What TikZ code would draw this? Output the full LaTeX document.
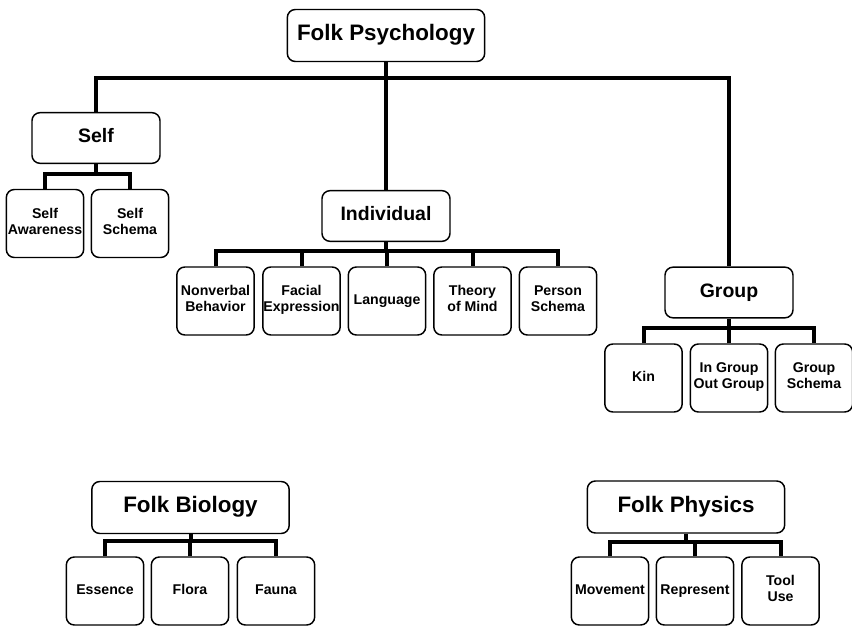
\documentclass[tikz,border=0pt]{standalone}
\usepackage{fontspec}
\setmainfont{Liberation Sans}
\usepackage{tikz}
\usetikzlibrary{calc}

\begin{document}
\begin{tikzpicture}[x=0.75pt, y=-0.75pt,
    box/.style = {draw, line width=1.1pt, rounded corners=6pt, fill=white, align=center, inner sep=0pt,
        execute at begin node=\strut, execute at end node=\strut},
    top/.style = {box, minimum width=148pt, minimum height=39pt, font=\bfseries\fontsize{16.8}{20}\selectfont},
    mid/.style = {box, minimum width=96pt, minimum height=38pt, font=\bfseries\fontsize{14.6}{17}\selectfont},
    leaf/.style = {box, minimum width=58pt, minimum height=51pt, font=\bfseries\fontsize{10.6}{12}\selectfont},
    link/.style = {line width=3pt}]
    \useasboundingbox (0,0) rectangle (852,627);
    % folk psychology
    \node[top] (fp) at (386,35.5) {Folk Psychology};
    \node[mid] (self) at (96,138) {Self};
    \node[mid] (ind) at (386,216) {Individual};
    \node[mid] (grp) at (729,292.5) {Group};
    \node[leaf] (saw) at (45,223.5) {Self\\Awareness};
    \node[leaf] (ssc) at (130,223.5) {Self\\Schema};
    \node[leaf] (nvb) at (215.5,301) {Nonverbal\\Behavior};
    \node[leaf] (fex) at (301.5,301) {Facial\\Expression};
    \node[leaf] (lang) at (387,301) {Language};
    \node[leaf] (tom) at (472.5,301) {Theory\\of Mind};
    \node[leaf] (psc) at (558,301) {Person\\Schema};
    \node[leaf] (kin) at (643.5,378) {Kin};
    \node[leaf] (iog) at (729,378) {In Group\\Out Group};
    \node[leaf] (gsc) at (814,378) {Group\\Schema};
    \draw[link] (fp.south) -- (fp.south |- 0,78);
    \draw[link] (self.north) -- (self.north |- 0,78) -| (grp.north);
    \draw[link] (ind.north) -- (ind.north |- 0,78);
    \draw[link] (self.south) -- (self.south |- 0,174);
    \draw[link] (saw.north) -- (saw.north |- 0,174) -| (ssc.north);
    \draw[link] (ind.south) -- (ind.south |- 0,251);
    \draw[link] (nvb.north) -- (nvb.north |- 0,251) -| (psc.north);
    \foreach \c in {fex,lang,tom}
        \draw[link] (\c.north) -- (\c.north |- 0,251);
    \draw[link] (grp.south) -- (grp.south |- 0,328);
    \draw[link] (kin.north) -- (kin.north |- 0,328) -| (gsc.north);
    \draw[link] (iog.north) -- (iog.north |- 0,328);
    % folk biology
    \node[top] (fb) at (190.5,507.5) {Folk Biology};
    \node[leaf] (ess) at (105,591) {Essence};
    \node[leaf] (flo) at (190,591) {Flora};
    \node[leaf] (fau) at (276,591) {Fauna};
    \draw[link] (fb.south) -- (fb.south |- 0,541);
    \draw[link] (ess.north) -- (ess.north |- 0,541) -| (fau.north);
    \draw[link] (flo.north) -- (flo.north |- 0,541);
    % folk physics
    \node[top] (fph) at (686,507) {Folk Physics};
    \node[leaf] (mov) at (610,591) {Movement};
    \node[leaf] (rep) at (695,591) {Represent};
    \node[leaf] (tool) at (780.5,591) {Tool\\Use};
    \draw[link] (fph.south) -- (fph.south |- 0,542);
    \draw[link] (mov.north) -- (mov.north |- 0,542) -| (tool.north);
    \draw[link] (rep.north) -- (rep.north |- 0,542);
\end{tikzpicture}
\end{document}
